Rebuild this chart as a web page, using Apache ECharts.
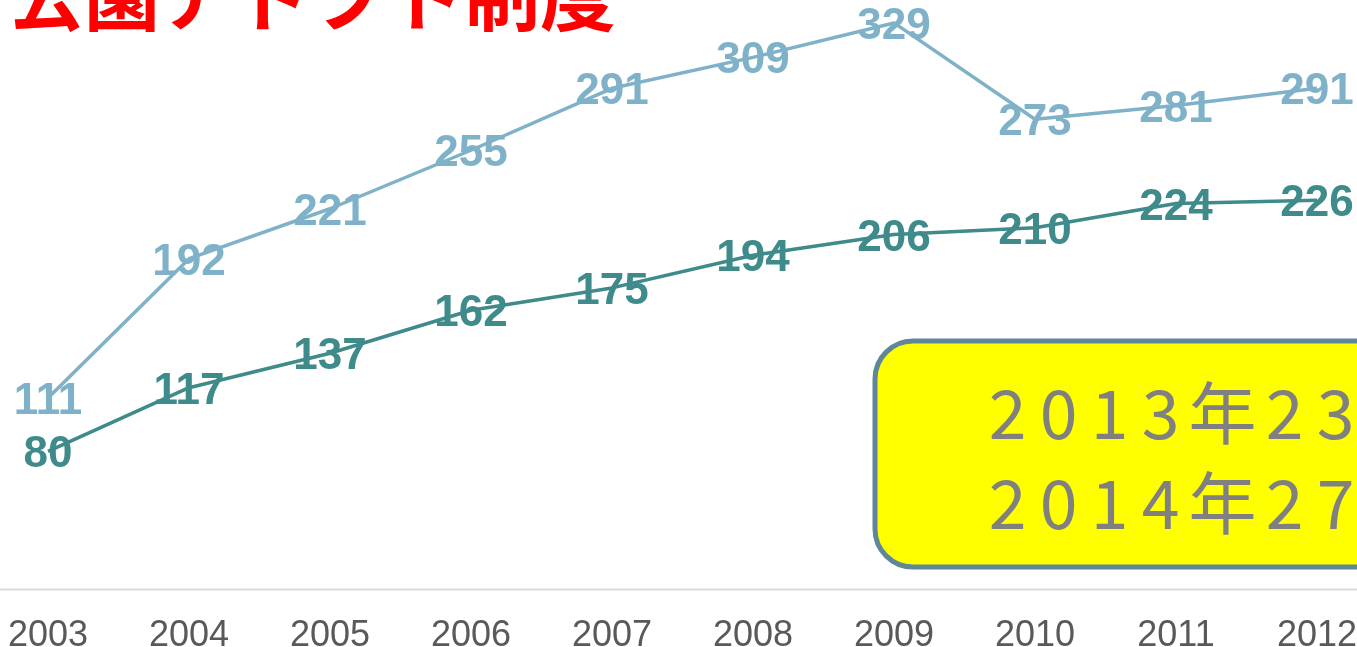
<!DOCTYPE html>
<html>
<head>
<meta charset="utf-8">
<script src="https://cdn.jsdelivr.net/npm/echarts@6/dist/echarts.min.js"></script>
<style>
  html, body { margin: 0; padding: 0; background: #fff; }
  #chart { width: 1357px; height: 647px; }
</style>
</head>
<body>
<div id="chart"></div>
<script>
// 年度（横軸）
const years = ["2003", "2004", "2005", "2006", "2007", "2008", "2009", "2010", "2011", "2012"];
// 上の線（水色）
const upperValues = [111, 192, 221, 255, 291, 309, 329, 273, 281, 291];
// 下の線（緑）
const lowerValues = [80, 117, 137, 162, 175, 194, 206, 210, 224, 226];
// 吹き出しの文字
const noteLines = ["2013年23", "2014年27"];

const myChart = echarts.init(document.getElementById("chart"));

// 一文字ずつ幅をそろえる（字間を広げるため）
function spaced(str) {
  return str.split("").map(c => (c === "年" ? "{k|" + c + "}" : "{d|" + c + "}")).join("");
}
const noteRich = {
  d: { width: 51, align: "center", fontSize: 68, fill: "#808080", fontFamily: "Noto Sans CJK JP" },
  k: { width: 73, align: "center", fontSize: 68, fill: "#808080", fontFamily: "Noto Sans CJK JP" }
};

function labelStyle(color) {
  return {
    show: true,
    position: "inside",
    offset: [0, 4],
    color: color,
    fontSize: 44,
    fontWeight: "bold",
    fontFamily: "Liberation Sans"
  };
}

myChart.setOption({
  animation: false,
  grid: { left: 48, right: 40, top: 4, bottom: 58, outerBoundsMode: "none" },
  xAxis: {
    type: "category",
    data: years,
    boundaryGap: false,
    axisLine: { show: false },
    axisTick: { show: false },
    axisLabel: {
      color: "#595959",
      fontSize: 36,
      fontFamily: "Liberation Sans",
      margin: 29
    }
  },
  yAxis: {
    type: "value",
    min: 0,
    max: 340,
    show: false,
    splitLine: { show: false }
  },
  series: [
    {
      type: "line",
      data: upperValues,
      symbolSize: 0,
      lineStyle: { color: "#7FB2C9", width: 3.5 },
      itemStyle: { color: "#7FB2C9" },
      label: labelStyle("#7FB2C9")
    },
    {
      type: "line",
      data: lowerValues,
      symbolSize: 0,
      lineStyle: { color: "#3F8A8A", width: 3.5 },
      itemStyle: { color: "#3F8A8A" },
      label: labelStyle("#3F8A8A")
    }
  ],
  graphic: [
    // 横軸の線（画面幅いっぱい）
    {
      type: "line",
      shape: { x1: 0, y1: 589.5, x2: 1357, y2: 589.5 },
      style: { stroke: "#D9D9D9", lineWidth: 2 },
      z: 0
    },
    {
      type: "text",
      left: 8,
      top: -42,
      style: {
        text: "公園アドプト制度",
        fill: "#FF0000",
        font: 'bold 76px "Noto Sans CJK JP"'
      }
    },
    {
      type: "rect",
      shape: { x: 875, y: 341, width: 600, height: 226, r: 38 },
      style: { fill: "#FFFF00", stroke: "#5F8799", lineWidth: 5 }
    },
    {
      type: "text",
      x: 982,
      y: 413,
      style: { text: spaced(noteLines[0]), rich: noteRich, verticalAlign: "middle" }
    },
    {
      type: "text",
      x: 982,
      y: 503,
      style: { text: spaced(noteLines[1]), rich: noteRich, verticalAlign: "middle" }
    }
  ]
});

window.addEventListener("resize", () => {
  myChart.resize();
});
</script>
</body>
</html>
